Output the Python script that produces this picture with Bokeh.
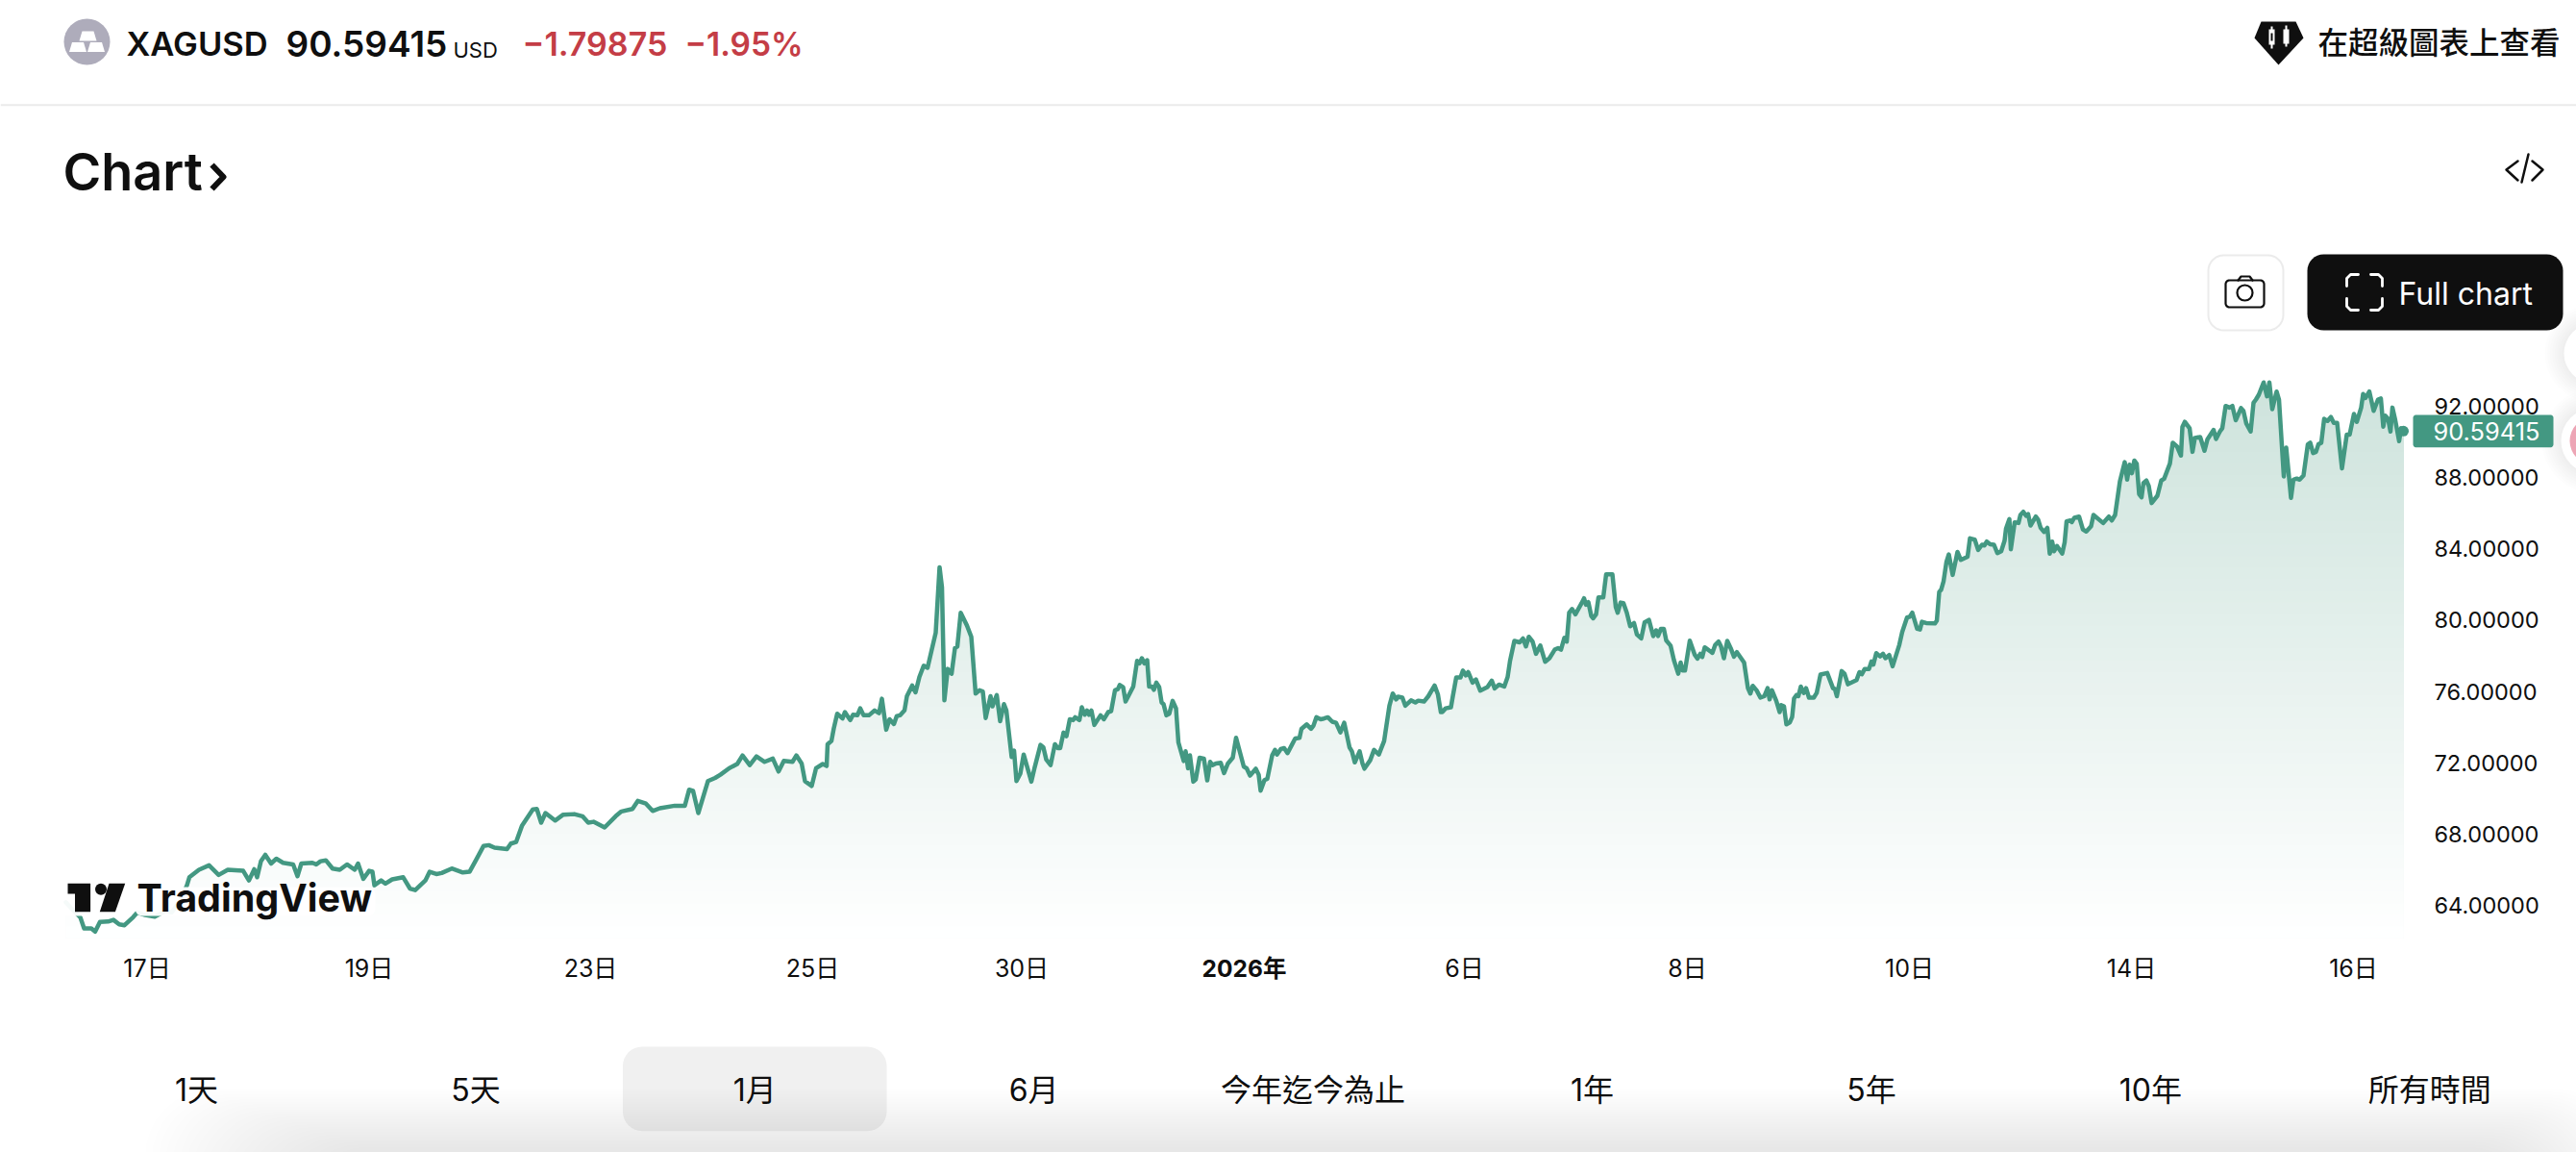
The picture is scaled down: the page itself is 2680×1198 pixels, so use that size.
import math
import numpy as np
from bokeh.core.properties import value
from bokeh.embed import file_html
from bokeh.models import FixedTicker, LinearAxis, Range1d
from bokeh.plotting import figure
from bokeh.resources import INLINE

SYMBOL = "XAGUSD"
LAST_PRICE = "90.59415"
CHANGE = "−1.79875"
CHANGE_PCT = "−1.95%"
RANGE_BUTTONS = ["1天", "5天", "1月", "6月", "今年迄今為止", "1年", "5年", "10年", "所有時間"]
PRICE_TICKS = [64, 68, 72, 76, 80, 84, 88, 92]
PRICE_TICK_LABELS = ["64.00000", "68.00000", "72.00000", "76.00000", "80.00000", "84.00000", "88.00000", "92.00000"]
TIME_TICKS = [16.9, 63.1, 109.2, 155.4, 198.9, 245.2, 291.0, 337.4, 383.6, 429.8, 476.0]
TIME_TICK_LABELS = ["17日", "19日", "23日", "25日", "30日", "2026年", "6日", "8日", "10日", "14日", "16日"]

# hours since the start of the window (trading bars)
hours_a = [0.0,1.3,3.0,3.8,5.3,6.1,7.1,8.8,9.9,11.1,12.2,14.0,14.9,16.5,18.5,20.8,22.0,23.7,25.2,25.7,27.7,29.8,31.8,33.7,36.9,38.1,39.2,39.8,40.6,41.5,42.7,43.8,45.2,47.3,48.2,49.0,51.3,52.1,53.0,54.1,55.5,57.0,58.5,60.1,60.8,61.9,63.1,63.8,64.2,65.6,66.5,67.9,70.2,71.6,72.7,74.8,75.7,77.1,78.2,80.3,82.6,84.0,85.4,86.9,88.0,89.2,91.8,92.6,93.7,94.9,97.2,98.0,98.9,99.8,101.8,103.5,105.8,107.5,108.7,109.8,112.1,114.4,115.6,117.9,119.0,120.7,122.1,123.6,126.7,128.8,129.7,130.5,131.6,133.6,135.1,136.2,138.0,139.7,140.8,142.3,143.7,145.4,147.1,148.3,149.4,151.2,152.0,153.1,153.8,155.2,156.1,157.5,158.3]
prices_a = [64.18,63.79,63.34,62.71,62.71,62.53,63.07,63.10,63.19,62.94,62.89,63.34,63.61,63.46,63.37,63.70,63.61,64.23,65.13,65.58,66.00,66.25,65.71,66.00,65.94,65.40,66.03,65.58,66.48,66.84,66.35,66.62,66.39,66.30,65.64,66.35,66.39,66.30,66.48,66.53,66.07,66.00,66.30,66.00,66.35,65.49,65.94,65.89,65.13,65.40,65.22,65.46,65.58,64.95,64.86,65.40,65.89,65.76,65.82,66.07,65.85,65.89,66.57,67.33,67.38,67.24,67.16,67.47,67.56,68.46,69.39,69.41,68.64,69.18,68.76,69.09,69.12,69.00,68.64,68.69,68.37,69.00,69.27,69.41,69.86,69.71,69.30,69.45,69.59,69.59,70.49,70.43,69.18,70.97,71.15,71.33,71.69,71.93,72.41,71.87,72.36,72.05,72.23,71.51,72.10,72.05,72.41,71.96,70.97,70.70,71.69,71.93,71.82]

hours_b = [158.5,159.3,159.8,160.5,161.6,162.1,163.2,163.8,164.7,165.3,166.0,167.1,168.3,169.2,169.8,170.7,171.4,172.3,172.9,173.6,174.5,175.0,176.1,176.8,177.6,178.5,179.3,180.1,181.0,181.8,182.3,182.8,183.5,184.3,185.0,185.5,186.2,187.5,188.4,189.3,190.1,190.8,191.4,192.4,192.8,193.7,194.4,195.2,195.7,196.8,197.3,197.8,198.6,199.3,200.9,201.6,202.8,203.4,204.0,204.9,205.8,206.4,206.9,207.6,208.2,208.9,209.6,210.0,210.9,211.4,212.0,212.5,212.9,213.4,214.0,215.3,216.0,216.9,217.5,218.3,218.9,219.3,220.0,220.5,222.1,222.9,223.4,223.9,224.4,225.0,225.4,226.0,226.4,226.9,227.5,228.0,228.4,229.0,229.6,230.3,231.0,231.5,232.6,233.0,233.5,233.9,234.6,235.1,235.9,236.8,237.5,238.1,238.6,239.3,240.3,241.0,241.8,242.8,243.5,245.1,245.7,246.4,247.6,248.2,248.6,249.4,250.0,251.0,251.6,252.0,252.8,253.5,254.2,255.1,255.8,256.7,257.1,258.2,259.1,259.6,260.2,261.1,261.8,262.6,263.5,264.3,265.2,266.0,267.1,267.6,268.2,269.2,269.8,270.2,271.4,272.2,273.2,274.3,275.4,276.1,276.8,277.2,278.1,278.7,279.9,280.8,281.4,282.6,283.5,284.8,285.5,286.1]
prices_b = [73.04,73.22,73.94,74.75,74.48,74.84,74.39,74.69,74.66,75.05,74.66,74.66,74.93,74.78,75.59,73.85,74.44,74.17,74.62,74.66,74.93,75.73,76.33,75.95,76.81,77.44,77.32,78.25,79.29,82.96,81.84,75.50,77.26,76.99,78.43,78.52,80.41,79.69,79.06,75.88,76.06,75.99,74.51,75.73,75.16,75.79,74.33,75.29,74.93,72.32,72.68,70.97,71.39,72.46,70.94,71.75,73.00,72.86,72.18,71.87,73.04,72.82,72.82,73.69,73.49,74.44,74.39,74.55,74.39,75.11,74.69,74.93,74.69,74.93,74.12,74.66,74.44,74.84,74.89,76.06,76.13,76.36,76.24,75.43,76.27,77.71,77.57,77.86,77.57,77.75,76.27,76.27,76.09,76.49,76.24,75.38,75.29,74.66,74.75,75.47,75.05,73.13,72.10,72.64,71.69,72.41,70.94,71.06,72.28,72.23,71.01,72.05,71.87,71.96,72.00,71.42,71.96,72.28,73.40,71.78,71.69,71.28,71.66,71.33,70.43,71.03,71.10,72.41,72.72,72.46,72.77,72.82,72.54,73.00,73.36,73.40,73.90,74.15,73.90,74.08,74.55,74.44,74.48,74.55,74.30,74.24,73.70,74.24,72.86,72.64,72.02,72.64,71.96,71.67,72.14,72.72,72.46,73.22,75.20,75.88,75.55,75.70,75.65,75.20,75.50,75.38,75.48,75.43,75.73,76.33,75.82,74.84]

hours_c = [286.4,287.1,288.2,288.6,289.3,290.2,290.7,291.3,291.8,292.7,293.4,294.3,295.8,296.7,297.3,298.2,299.3,300.0,300.5,301.4,302.5,303.2,303.8,304.4,305.2,305.9,306.8,307.8,308.7,309.8,310.5,311.1,311.8,312.3,312.8,313.4,314.1,315.4,315.9,316.3,316.8,317.4,317.8,318.4,318.9,319.9,320.5,321.8,322.5,322.9,323.5,324.1,324.8,325.5,326.3,326.9,327.8,328.5,329.4,330.3,330.9,331.3,331.9,332.5,333.0,333.9,334.6,335.5,336.0,336.4,336.9,337.9,338.9,339.5,340.1,340.5,341.0,342.6,343.2,343.9,344.4,345.0,345.7,346.4,347.1,347.7,349.2,350.0,350.5,351.0,351.8,352.6,353.4,354.1,354.5,355.0,355.9,356.6,356.9,357.5,358.0,358.7,359.2,359.6,360.1,360.5,361.0,361.6,362.1,362.7,363.7,364.3,365.1,366.5,367.7,368.1,368.5,369.5,370.1,370.8,372.6,373.2,373.7,374.3,375.2,375.7,376.1,376.7,377.5,378.1,378.6,379.4,380.1,381.5,382.1,383.1,383.7,384.2,385.2,385.8,386.2,387.1,388.9,389.3,389.8,390.2,390.7,391.3,391.8,392.6]
prices_c = [74.84,75.05,75.11,75.73,76.78,76.78,77.17,76.90,77.08,76.49,76.67,76.04,76.24,76.60,76.17,76.38,76.27,76.81,77.71,78.83,78.75,78.97,78.52,79.06,78.79,78.11,78.57,77.66,77.86,78.34,78.43,78.34,79.00,78.79,80.41,80.62,80.32,80.95,81.22,80.86,81.00,80.23,80.10,80.32,81.27,81.27,82.56,82.56,80.73,80.41,80.98,80.95,80.41,79.65,79.83,79.19,78.97,79.87,80.01,79.10,79.42,79.11,79.51,79.51,78.86,78.57,77.75,76.99,77.62,77.17,77.17,78.84,78.07,77.84,78.11,77.93,78.47,78.16,78.61,78.79,78.52,77.86,78.83,78.43,77.95,78.20,77.62,76.18,75.88,76.31,76.06,75.65,75.73,76.18,75.55,76.06,75.47,74.84,75.23,75.16,74.15,74.26,74.57,75.61,75.79,75.73,76.27,75.91,76.18,75.65,75.65,75.91,76.94,77.03,76.18,76.13,75.73,77.14,76.99,76.40,76.63,77.08,76.96,77.26,77.26,77.68,77.50,78.14,77.96,78.11,77.86,78.04,77.41,78.61,79.33,80.14,80.19,80.41,79.51,79.47,79.90,79.83,79.81,79.96,81.57,81.70,82.17,83.25,83.68,82.53]

hours_d = [393.6,394.3,395.7,396.2,397.2,397.9,398.7,399.2,399.7,400.4,401.2,401.9,402.7,403.4,403.7,404.4,404.7,405.5,406.3,406.7,407.3,407.9,408.3,408.8,409.9,410.4,410.9,411.6,412.3,412.8,413.3,413.7,414.3,415.4,415.9,416.3,417.1,417.4,417.9,418.9,419.7,420.4,421.4,421.9,423.9,425.1,425.7,426.4,427.4,428.4,428.9,429.4,429.9,430.4,430.9,431.4,431.9,432.3,432.9,433.4,434.0,435.2,436.0,436.6,437.8,438.4,439.3,440.1,440.4,440.9,441.9,442.5,443.0,444.1,445.0,445.6,446.9,447.4,448.2,448.7,449.4,450.2,450.8,451.5,452.6,453.1,453.7,454.6,455.2,455.7,456.3,457.3,458.0,458.5,459.1,460.0,460.5,461.5,462.0,463.0,463.5,464.2,464.8,465.6,466.5,467.0,467.6,468.2,468.7,469.3,469.9,470.6,471.3,471.9,472.6,473.6,474.6,475.2,476.1,476.7,477.6,478.0,478.5,479.3,480.2,481.1,481.7,482.2,482.6,483.2,483.7,484.1,484.7,485.5,485.9,486.4]
prices_d = [83.82,83.37,83.55,84.58,84.51,83.93,84.22,84.18,84.40,84.25,84.22,83.75,83.86,84.45,85.12,85.66,83.97,85.48,85.44,85.89,86.07,85.84,85.94,85.30,85.80,85.62,85.17,84.94,85.17,83.72,84.40,83.86,84.15,83.73,84.36,85.53,85.58,85.49,85.73,85.80,85.08,84.96,85.26,85.89,85.44,85.80,85.58,85.89,87.78,88.85,87.87,88.71,88.23,88.94,88.76,87.06,86.88,87.69,87.82,87.51,86.56,86.97,87.82,87.92,88.77,89.94,89.72,89.22,90.83,91.11,90.75,89.43,90.21,90.26,89.49,90.12,90.66,90.15,90.57,90.75,92.00,91.91,92.00,91.20,91.88,91.73,91.02,90.57,92.18,92.36,92.63,93.32,92.54,93.32,91.82,92.81,92.36,88.05,89.67,86.85,87.87,87.93,87.87,88.10,89.85,89.94,89.36,89.43,89.85,89.94,91.28,91.16,91.38,91.05,91.05,88.50,90.39,90.39,91.55,91.11,91.91,92.67,92.45,92.81,91.73,92.36,92.42,90.84,91.46,91.28,90.57,91.91,91.20,90.03,90.75,90.59]

hours = np.array(hours_a + hours_b + hours_c + hours_d)
prices = np.array(prices_a + prices_b + prices_c + prices_d)
assert len(hours) == len(prices) and np.all(np.diff(hours) > 0)

LINE = "#439882"
INK = "#0f0f0f"
RED = "#c43d46"
FAMILY = "Inter, 'Noto Sans CJK TC', sans-serif"
FONT = value(FAMILY)
FONT_MED = value("'Inter SemiBold', 'Noto Sans CJK TC Medium', Inter, 'Noto Sans CJK TC', sans-serif")

W, H = 2680, 1198
PX_PER_HOUR = 5.0
PX_PER_USD = 18.55
HOUR0_X = 68.0
USD92_Y = 421.7


def x_of(px):
    return (px - HOUR0_X) / PX_PER_HOUR


def y_of(py):
    return 92 - (py - USD92_Y) / PX_PER_USD


p = figure(width=W, height=H, output_backend="svg", toolbar_location=None,
           x_axis_location=None, y_axis_location=None,
           x_range=Range1d(x_of(0), x_of(W)), y_range=Range1d(y_of(H), y_of(0)),
           min_border=0, min_border_left=0, min_border_right=0, min_border_top=0, min_border_bottom=0,
           outline_line_color=None, background_fill_color="white", border_fill_color="white", tools="")
p.grid.visible = False
p.extra_x_ranges["px"] = Range1d(0, W)
p.extra_y_ranges["px"] = Range1d(H, 0)
PXR = dict(x_range_name="px", y_range_name="px")


def rounded(x0, y0, x1, y1, r, n=8):
    xs, ys = [], []
    for cx, cy, a0 in [(x1 - r, y0 + r, -90), (x1 - r, y1 - r, 0), (x0 + r, y1 - r, 90), (x0 + r, y0 + r, 180)]:
        for k in range(n + 1):
            a = math.radians(a0 + 90 * k / n)
            xs.append(cx + r * math.cos(a))
            ys.append(cy + r * math.sin(a))
    return xs, ys


def box(x0, y0, x1, y1, r, fill, line=None, lw=1.0, alpha=1.0):
    xs, ys = rounded(x0, y0, x1, y1, r)
    p.patch(xs, ys, fill_color=fill, fill_alpha=alpha, line_color=line, line_width=lw, **PXR)


def stroke(xs, ys, color=INK, lw=2.5, cap="round"):
    p.line(xs, ys, line_color=color, line_width=lw, line_cap=cap, line_join="round", **PXR)


def poly(xs, ys, color=INK):
    p.patch(xs, ys, fill_color=color, line_color=None, **PXR)


def txt(x, y, s, size, color=INK, style="normal", align="left", font=FONT):
    p.text([x], [y], text=[s], text_font=font, text_font_size=f"{size}px", text_font_style=style,
           text_color=color, text_align=align, text_baseline="middle", **PXR)


# ---- floating side discs (behind everything)
for cy, rad in [(367, 31), (458, 34)]:
    for k in range(8, 0, -1):
        p.circle([2698], [cy], radius=rad + k * 2.5, fill_color="#000000", fill_alpha=0.006, line_color=None, **PXR)
    p.circle([2698], [cy], radius=rad, fill_color="white", line_color=None, **PXR)
p.circle([2698], [458], radius=25, fill_color="#eda5b5", line_color=None, **PXR)

# ---- area gradient, painted from the top level down
AREA_BASE = y_of(975)
AREA_TOP = float(prices.max())
TOP_RGB = np.array([205, 227, 220])
N_BANDS = 48
for i in range(N_BANDS):
    level = AREA_TOP - (AREA_TOP - AREA_BASE) * i / N_BANDS
    f = (i + 0.5) / N_BANDS
    rgb = TOP_RGB + (np.array([255, 255, 255]) - TOP_RGB) * f
    d = prices - level
    crossing = np.where(d[:-1] * d[1:] < 0)[0]
    tc = hours[crossing] + (hours[crossing + 1] - hours[crossing]) * (-d[crossing]) / (d[crossing + 1] - d[crossing])
    tx = np.union1d(hours, tc)
    yy = np.minimum(np.interp(tx, hours, prices), level)
    p.varea(tx, y1=np.full_like(tx, AREA_BASE), y2=yy,
            fill_color="#%02x%02x%02x" % tuple(int(round(v)) for v in rgb))

# ---- price line
p.line(hours, prices, line_color=LINE, line_width=4.5, line_join="round", line_cap="round")
p.scatter(hours[-1:], prices[-1:], size=11, fill_color=LINE, line_color=None)

# ---- axes (fixed inside the frame)
y_axis = LinearAxis(fixed_location=x_of(2500), ticker=FixedTicker(ticks=PRICE_TICKS),
                    major_label_overrides=dict(zip(PRICE_TICKS, PRICE_TICK_LABELS)),
                    major_label_standoff=26, major_label_text_font=FAMILY,
                    major_label_text_font_size="23.5px", major_label_text_color=INK,
                    axis_line_color=None, major_tick_line_color=None, minor_tick_line_color=None)
p.add_layout(y_axis, "right")
x_overrides = {t: ("" if s == "2026年" else s) for t, s in zip(TIME_TICKS, TIME_TICK_LABELS)}
x_axis = LinearAxis(fixed_location=y_of(975), ticker=FixedTicker(ticks=TIME_TICKS),
                    major_label_overrides=x_overrides, major_label_standoff=10,
                    major_label_text_font=FAMILY,
                    major_label_text_font_size="25px", major_label_text_color=INK,
                    axis_line_color=None, major_tick_line_color=None, minor_tick_line_color=None)
p.add_layout(x_axis, "below")
p.text([TIME_TICKS[5]], [y_of(1006)], text=[TIME_TICK_LABELS[5]], text_font=FONT, text_font_size="24.5px",
       text_font_style="bold", text_color=INK, text_align="center", text_baseline="middle")

# ---- last-price tag
box(2510, 431, 2656, 464.7, 3, LINE)
txt(2531, 448, LAST_PRICE, 25.4, "#ffffff")

# ---- TradingView watermark with its white halo
box(62, 914, 134, 952, 8, "#ffffff", alpha=0.95)
box(140, 922, 390, 952, 8, "#ffffff", alpha=0.95)
poly([70, 93.6, 93.6, 77.5, 77.5, 70], [918.3, 918.3, 947.7, 947.7, 929, 929])
p.circle([104.5], [924.3], radius=6, fill_color=INK, line_color=None, **PXR)
poly([113, 129.7, 119.4, 103.3], [918.3, 918.3, 947.7, 947.7])
txt(142, 933, "TradingView", 39.5, style="bold")

# ---- header
stroke([0, W], [108.7, 108.7], "#ebebeb", 2, "butt")
p.circle([90], [43], radius=24, fill_color="#aeacbb", line_color=None, **PXR)
for bx, by in [(91, 32), (80.5, 43.5), (99.5, 43.5)]:
    poly([bx - 6, bx + 6, bx + 9, bx - 9], [by, by, by + 10, by + 10], "#ffffff")
txt(131, 45, SYMBOL, 34.5, font=FONT_MED)
txt(297, 45, LAST_PRICE, 37, font=FONT_MED)
txt(471, 51, "USD", 22)
txt(543, 45, CHANGE, 34, RED, font=FONT_MED)
txt(712, 45, CHANGE_PCT, 33.5, RED, font=FONT_MED)
poly([2345, 2352, 2388, 2396, 2370], [39, 22, 22, 39, 67])
poly([2360, 2366, 2366, 2360], [30, 30, 46, 46], "#ffffff")
poly([2375, 2381, 2381, 2375], [30, 30, 45, 45], "#ffffff")
stroke([2363, 2363], [27, 50], "#ffffff", 2, "butt")
stroke([2378, 2378], [26, 48], "#ffffff", 2, "butt")
poly([2362, 2364, 2364, 2362], [34, 34, 42, 42])
txt(2411, 44, "在超級圖表上查看", 31.5, font=FONT_MED)
txt(65, 178, "Chart", 54, font=FONT_MED)
stroke([220, 232, 220], [171, 183.5, 196], INK, 6, "butt")
stroke([2619, 2607, 2619], [167, 176, 187])
stroke([2630, 2623], [160, 189])
stroke([2634, 2645, 2634], [167, 176, 187])

# ---- chart buttons
box(2297, 265, 2375, 343, 16, "#ffffff", "#ebebeb", 2)
box(2315, 291, 2355, 319, 4, "#ffffff", INK, 2.2)
stroke([2328, 2331, 2340, 2343], [291, 287, 287, 291], INK, 2.2)
p.circle([2335], [304], radius=8, fill_color="#ffffff", line_color=INK, line_width=2.2, **PXR)
box(2400, 264, 2666, 343, 17, INK)
for sx, sy in [(2441, 285), (2478, 285), (2441, 322), (2478, 322)]:
    dx = 1 if sx < 2460 else -1
    dy = 1 if sy < 300 else -1
    stroke([sx, sx, sx + dx * 4, sx + dx * 12], [sy + dy * 12, sy + dy * 4, sy, sy], "#ffffff", 2.8)
txt(2495, 305, "Full chart", 32, "#ffffff")

# ---- range selector
box(647.5, 1088, 922, 1175.7, 20, "#f0f0f0")
for k, label in enumerate(RANGE_BUTTONS):
    txt(204 + k * 290.4, 1133, label, 32, align="center")

# ---- soft shadow along the bottom edge
for k in range(24):
    box(150 + k * 7, 1132 + k * 2.6, 2730 - k * 4, 1300, 70, "#000000", alpha=0.0032)

html = file_html(p, INLINE)
open("out.html", "w").write(html)
